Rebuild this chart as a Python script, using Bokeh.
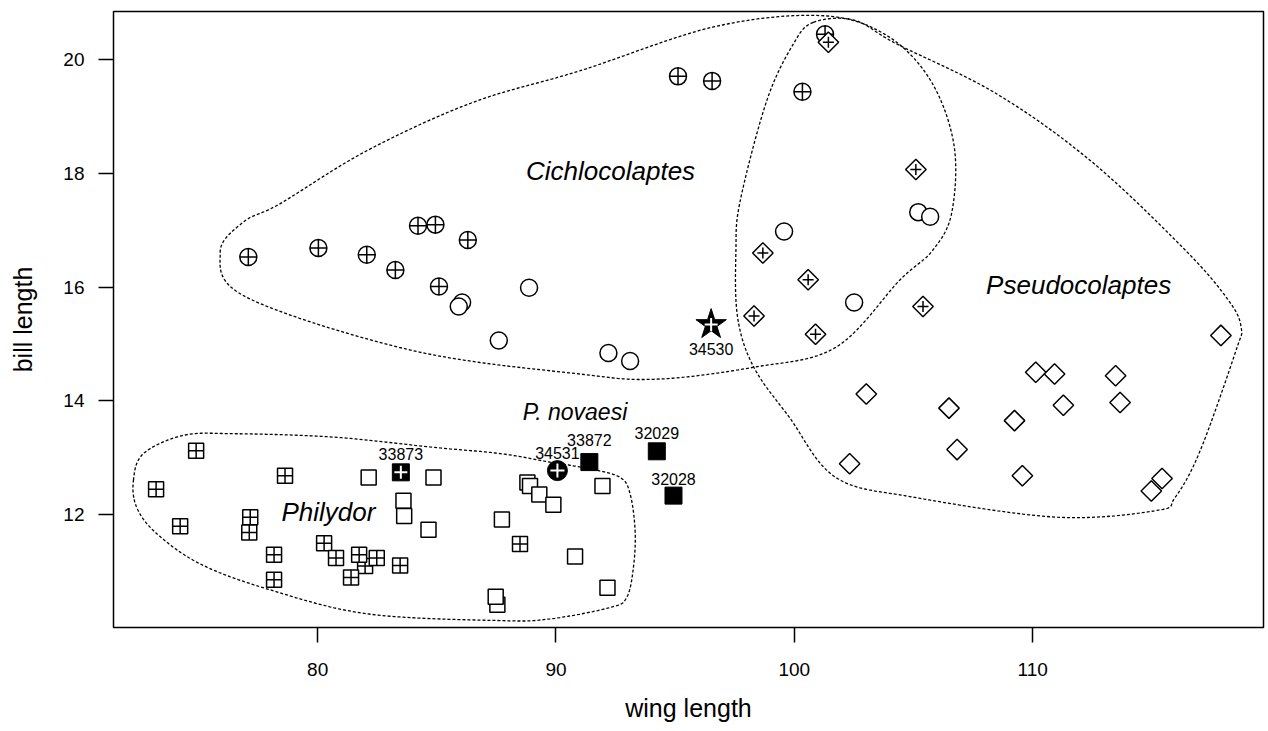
import numpy as np
from bokeh.plotting import figure
from bokeh.models import Range1d, FixedTicker
from bokeh.core.properties import value
from bokeh.embed import file_html
from bokeh.resources import INLINE

# ---------------- data (wing length, bill length) ----------------
plus_circle_x = [77.09, 80.03, 82.06, 83.26, 84.21, 84.94, 86.30, 85.09, 95.12, 96.55, 100.34, 101.29]
plus_circle_y = [16.53, 16.69, 16.57, 16.30, 17.08, 17.10, 16.83, 16.01, 19.71, 19.63, 19.44, 20.45]

open_circle_x = [86.06, 85.92, 88.87, 87.60, 92.20, 93.11, 99.57, 102.51, 105.20, 105.70]
open_circle_y = [15.73, 15.66, 15.99, 15.06, 14.84, 14.70, 16.98, 15.73, 17.32, 17.24]

plus_square_x = [81.99, 74.90, 73.22, 74.23, 78.63, 77.17, 77.13, 78.17, 78.17, 80.27, 80.77, 81.74, 82.48, 81.40, 83.46, 88.49]
plus_square_y = [11.09, 13.12, 12.44, 11.79, 12.68, 11.95, 11.68, 11.29, 10.85, 11.49, 11.23, 11.29, 11.23, 10.89, 11.10, 11.48]

open_square_x = [82.14, 83.60, 83.63, 84.86, 84.65, 87.73, 87.54, 87.47, 88.80, 88.91, 89.30, 89.89, 91.95, 90.80, 92.16]
open_square_y = [12.65, 12.24, 11.97, 12.65, 11.73, 11.91, 10.41, 10.55, 12.56, 12.50, 12.35, 12.17, 12.50, 11.26, 10.71]

plus_diamond_x = [101.43, 98.68, 100.58, 98.31, 100.89, 105.40, 105.10]
plus_diamond_y = [20.31, 16.60, 16.13, 15.49, 15.17, 15.66, 18.07]

open_diamond_x = [103.02, 117.90, 110.13, 110.92, 113.48, 106.49, 111.29, 113.67, 109.24, 106.83, 102.32, 109.57, 114.98, 115.43]
open_diamond_y = [14.12, 15.15, 14.50, 14.47, 14.44, 13.87, 13.92, 13.97, 13.65, 13.14, 12.89, 12.68, 12.41, 12.63]

# P. novaesi specimens
novaesi_sq_x = [91.40, 94.23, 94.93]          # 33872, 32029, 32028
novaesi_sq_y = [12.92, 13.11, 12.33]
novaesi_sqplus_x = [83.49]                     # 33873
novaesi_sqplus_y = [12.74]
novaesi_circ_x = [90.06]                       # 34531
novaesi_circ_y = [12.77]
novaesi_star_x = [96.51]                       # 34530
novaesi_star_y = [15.34]

specimen_ids = ["33873", "34531", "33872", "32029", "32028", "34530"]
specimen_x = [83.49, 90.06, 91.40, 94.23, 94.93, 96.51]
specimen_y = [12.74, 12.77, 12.92, 13.11, 12.33, 15.34]
specimen_dy = [-18, -18, -22, -18, -17, 24]

group_names = ["Cichlocolaptes", "Pseudocolaptes", "Philydor"]
group_x = [92.29, 111.93, 80.45]
group_y = [18.05, 16.03, 12.04]
novaesi_name = ["P. novaesi"]
novaesi_name_x = [90.80]
novaesi_name_y = [13.80]

# hand-drawn group outlines (vertices)
cich_x = [75.91, 76.9, 78.43, 82.06, 86.5, 91.02, 96.61, 101.09, 103.8, 105.7, 106.7, 106.6, 105.79, 104.44, 101.74, 98.30, 94.23, 91.01, 84.02, 77.02]
cich_y = [16.61, 17.15, 17.47, 18.40, 19.25, 19.81, 20.58, 20.78, 20.45, 19.65, 18.50, 17.30, 16.64, 16.13, 14.94, 14.59, 14.38, 14.47, 14.88, 15.82]

pseu_x = [100.80, 102.5, 104.30, 108.5, 112.5, 116.43, 118.23, 118.75, 118.53, 117.03, 115.98, 115.22, 111.03, 105.04, 101.74, 99.79, 98.30, 97.62, 97.55, 97.73, 98.85, 99.96]
pseu_y = [20.66, 20.70, 20.28, 19.40, 18.20, 16.64, 15.76, 15.29, 14.88, 13.12, 12.30, 12.07, 11.95, 12.30, 12.65, 13.71, 14.59, 15.47, 16.64, 17.52, 19.29, 20.28]

phil_x = [72.27, 72.69, 74.36, 76.46, 80.66, 84.86, 87.65, 89.75, 91.43, 92.69, 93.11, 93.32, 93.25, 92.97, 92.27, 89.75, 87.65, 82.06, 77.86, 75.06, 73.25, 72.41]
phil_y = [12.60, 13.07, 13.39, 13.42, 13.36, 13.18, 13.07, 12.92, 12.80, 12.65, 12.36, 11.71, 11.07, 10.54, 10.36, 10.16, 10.13, 10.25, 10.69, 11.13, 11.66, 12.12]

x_ticks = [80, 90, 100, 110]
y_ticks = [12, 14, 16, 18, 20]

# ---------------- helpers ----------------
all_x = plus_circle_x + open_circle_x + plus_square_x + open_square_x + plus_diamond_x + open_diamond_x + specimen_x
all_y = plus_circle_y + open_circle_y + plus_square_y + open_square_y + plus_diamond_y + open_diamond_y + specimen_y


def padded(vals, frac=0.04):
    lo, hi = min(vals), max(vals)
    d = (hi - lo) * frac
    return lo - d, hi + d


SX, SY = 23.83, 56.8  # approx pixels per unit, used only to smooth outlines evenly


def smooth_closed(xs, ys, n=24):
    P = np.column_stack([np.asarray(xs) * SX, np.asarray(ys) * SY])
    m = len(P)
    out = []
    for i in range(m):
        p0, p1, p2, p3 = P[(i - 1) % m], P[i], P[(i + 1) % m], P[(i + 2) % m]
        for t in np.linspace(0, 1, n, endpoint=False):
            t2, t3 = t * t, t * t * t
            out.append(0.5 * (2 * p1 + (-p0 + p2) * t + (2 * p0 - 5 * p1 + 4 * p2 - p3) * t2
                              + (-p0 + 3 * p1 - 3 * p2 + p3) * t3))
    out.append(out[0])
    out = np.array(out)
    return out[:, 0] / SX, out[:, 1] / SY


FONT = value("Liberation Sans")

p = figure(width=1268, height=731,
           x_range=Range1d(*padded(all_x)), y_range=Range1d(*padded(all_y)),
           output_backend="svg", toolbar_location=None,
           min_border_left=113, min_border_right=5, min_border_top=11, min_border_bottom=104)
p.xgrid.visible = False
p.ygrid.visible = False
p.outline_line_color = "black"
p.outline_line_width = 1.5
p.background_fill_color = "white"
p.border_fill_color = "white"

for ax, ticks in ((p.xaxis, x_ticks), (p.yaxis, y_ticks)):
    ax.ticker = FixedTicker(ticks=ticks)
    ax.axis_line_color = None
    ax.major_tick_line_color = "black"
    ax.major_tick_line_width = 1.5
    ax.major_tick_out = 15
    ax.major_tick_in = 0
    ax.minor_tick_line_color = None
    ax.major_label_text_font = "Liberation Sans"
    ax.major_label_text_font_size = "19px"
    ax.major_label_text_color = "black"
    ax.axis_label_text_font = "Liberation Sans"
    ax.axis_label_text_font_size = "25px"
    ax.axis_label_text_font_style = "normal"
    ax.axis_label_text_color = "black"

p.xaxis.axis_label = "wing length"
p.yaxis.axis_label = "bill length"
p.xaxis.major_label_standoff = 20
p.xaxis.axis_label_standoff = 15
p.yaxis.major_label_standoff = 14
p.yaxis.axis_label_standoff = 23

# outlines
for xs, ys in ((cich_x, cich_y), (pseu_x, pseu_y), (phil_x, phil_y)):
    sx, sy = smooth_closed(xs, ys)
    p.line(sx, sy, line_color="black", line_width=1.3, line_dash="3 2")

LW = 1.5
# squares
p.scatter(plus_square_x, plus_square_y, marker="square_cross", size=15,
          fill_color="white", line_color="black", line_width=LW)
p.scatter(open_square_x, open_square_y, marker="square", size=15,
          fill_color="white", line_color="black", line_width=LW)
# circles
p.scatter(plus_circle_x, plus_circle_y, marker="circle_cross", size=17,
          fill_color="white", line_color="black", line_width=LW)
p.scatter(open_circle_x, open_circle_y, marker="circle", size=17,
          fill_color="white", line_color="black", line_width=LW)
# diamonds
p.scatter(open_diamond_x, open_diamond_y, marker="square", angle=np.pi / 4, size=14.5,
          fill_color="white", line_color="black", line_width=LW)
p.scatter(plus_diamond_x, plus_diamond_y, marker="square", angle=np.pi / 4, size=14.5,
          fill_color="white", line_color="black", line_width=LW)
p.scatter(plus_diamond_x, plus_diamond_y, marker="cross", size=11,
          line_color="black", line_width=LW)

# P. novaesi specimens
p.scatter(novaesi_sq_x, novaesi_sq_y, marker="square", size=17,
          fill_color="black", line_color="black")
p.scatter(novaesi_sqplus_x, novaesi_sqplus_y, marker="square", size=17,
          fill_color="black", line_color="black")
p.scatter(novaesi_sqplus_x, novaesi_sqplus_y, marker="cross", size=13,
          line_color="white", line_width=2)
p.scatter(novaesi_circ_x, novaesi_circ_y, marker="circle", size=20,
          fill_color="black", line_color="black")
p.scatter(novaesi_circ_x, novaesi_circ_y, marker="cross", size=14,
          line_color="white", line_width=2)
p.scatter(novaesi_star_x, novaesi_star_y, marker="star", size=32,
          fill_color="black", line_color="black")
p.scatter(novaesi_star_x, novaesi_star_y, marker="cross", size=13,
          line_color="white", line_width=2)

# specimen numbers
p.text(specimen_x, specimen_y, text=specimen_ids, y_offset=specimen_dy,
       text_font=FONT, text_font_size="16px", text_color="black",
       text_align="center", text_baseline="middle")

# group names
p.text(group_x, group_y, text=group_names,
       text_font=FONT, text_font_size="26px", text_font_style="italic", text_color="black",
       text_align="center", text_baseline="middle")
p.text(novaesi_name_x, novaesi_name_y, text=novaesi_name,
       text_font=FONT, text_font_size="23px", text_font_style="italic", text_color="black",
       text_align="center", text_baseline="middle")

open("out.html", "w").write(file_html(p, INLINE))
